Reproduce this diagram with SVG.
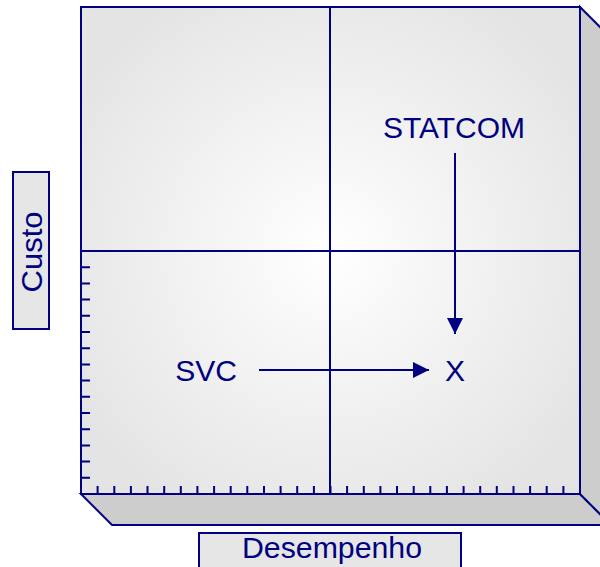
<svg xmlns="http://www.w3.org/2000/svg" width="600" height="567" viewBox="0 0 600 567">
  <style>
    .edge { stroke: #000080; stroke-width: 2; fill: none; }
    .face { fill: #cdcdcd; stroke: #000080; stroke-width: 2; stroke-linejoin: miter; }
    .tick { stroke: #000080; stroke-width: 2; }
    .lbl { font-family: "Liberation Sans", Arial, sans-serif; font-size: 30px; fill: #000080; }
    .box { fill: #e6e6e6; stroke: #000080; stroke-width: 2; }
    .arrow { stroke: #000080; stroke-width: 2; fill: none; }
  </style>
  <defs>
    <radialGradient id="plane" cx="330" cy="252" r="300" gradientUnits="userSpaceOnUse">
      <stop offset="0" stop-color="#ffffff"/>
      <stop offset="1" stop-color="#e4e4e4"/>
    </radialGradient>
    <marker id="head" viewBox="0 0 16 16" refX="16" refY="8" markerWidth="16" markerHeight="16" markerUnits="userSpaceOnUse" orient="auto">
      <path d="M0,0 L16,8 L0,16 Z" fill="#000080"/>
    </marker>
  </defs>

  <!-- 3D base: bottom and right faces -->
  <g id="solid">
    <polygon class="face" points="81,494 580,494 611,525 112,525"/>
    <polygon class="face" points="580,7 611,38 611,525 580,494"/>
    <rect x="81" y="7" width="499" height="487" fill="url(#plane)" stroke="#000080" stroke-width="2"/>
  </g>

  <!-- quadrant dividers -->
  <g id="grid">
    <line class="edge" x1="330" y1="7" x2="330" y2="494"/>
    <line class="edge" x1="81" y1="251" x2="580" y2="251"/>
  </g>

  <!-- axis ticks -->
  <g id="ticks" class="tick">
    <path class="tick" d="M81,267.2h9 M81,283.4h9 M81,299.6h9 M81,315.8h9 M81,332h9 M81,348.2h9 M81,364.4h9 M81,380.6h9 M81,396.8h9 M81,413h9 M81,429.2h9 M81,445.4h9 M81,461.6h9 M81,477.8h9"/>
    <path class="tick" d="M97.6,494v-8 M114.3,494v-8 M130.9,494v-8 M147.5,494v-8 M164.2,494v-8 M180.8,494v-8 M197.4,494v-8 M214.1,494v-8 M230.7,494v-8 M247.3,494v-8 M264,494v-8 M280.6,494v-8 M297.2,494v-8 M313.9,494v-8 M330.5,494v-8 M347.1,494v-8 M363.8,494v-8 M380.4,494v-8 M397,494v-8 M413.7,494v-8 M430.3,494v-8 M446.9,494v-8 M463.6,494v-8 M480.2,494v-8 M496.8,494v-8 M513.5,494v-8 M530.1,494v-8 M546.7,494v-8 M563.4,494v-8"/>
  </g>

  <!-- axis captions -->
  <g id="axis-y">
    <rect class="box" x="13" y="172" width="36" height="157"/>
    <text class="lbl" transform="translate(41.5,252) rotate(-90)" text-anchor="middle" textLength="81" lengthAdjust="spacingAndGlyphs">Custo</text>
  </g>
  <g id="axis-x">
    <rect class="box" x="199" y="533" width="262" height="40"/>
    <text class="lbl" x="332" y="558" text-anchor="middle" textLength="180" lengthAdjust="spacingAndGlyphs">Desempenho</text>
  </g>

  <!-- labels -->
  <g id="statcom"><text class="lbl" x="454" y="138" text-anchor="middle">STATCOM</text></g>
  <g id="svc"><text class="lbl" x="206" y="381" text-anchor="middle">SVC</text></g>
  <g id="target"><text class="lbl" x="455" y="381" text-anchor="middle">X</text></g>

  <!-- connectors -->
  <g id="connectors">
    <line class="arrow" x1="455" y1="153" x2="455" y2="334" marker-end="url(#head)"/>
    <line class="arrow" x1="259" y1="370" x2="429" y2="370" marker-end="url(#head)"/>
  </g>
</svg>
